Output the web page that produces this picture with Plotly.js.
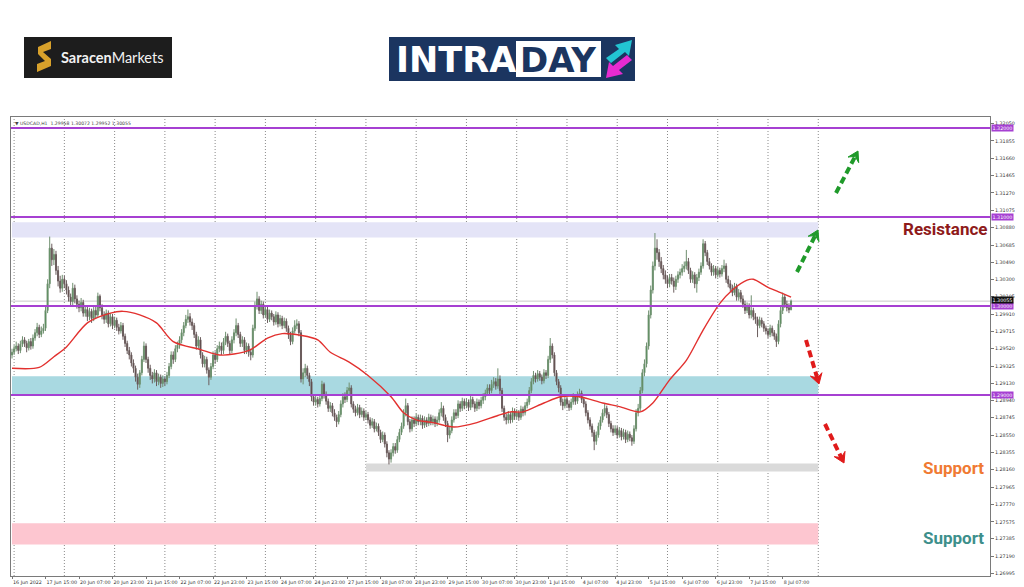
<!DOCTYPE html>
<html><head><meta charset="utf-8">
<script src="https://cdn.plot.ly/plotly-3.0.1.min.js"></script>
<style>html,body{margin:0;padding:0;background:#fff;}#chart{width:1024px;height:587px;}</style>
</head><body><div id="chart"></div>
<script>
// ---------- DATA ----------
const symbolHeader = "\u25BC USDCAD,H1  1.29958 1.30072 1.29952 1.30055";
const firstOpen = 1.2945;
const closes = [
1.2948,1.2952,1.2955,1.2950,1.2957,1.2962,1.2958,1.2953,1.2960,1.2955,
1.2964,1.2970,1.2976,1.2968,1.2972,1.2975,1.2995,1.3025,1.3065,1.3052,
1.3058,1.3040,1.3028,1.3020,1.3030,1.3025,1.3018,1.3010,1.3005,1.3020,
1.3008,1.3002,1.2998,1.3004,1.2992,1.2996,1.2988,1.2994,1.2986,1.2995,
1.2990,1.3011,1.2998,1.2990,1.2985,1.2992,1.2980,1.2988,1.2978,1.2984,
1.2976,1.2972,1.2978,1.2966,1.2958,1.2950,1.2945,1.2936,1.2930,1.2920,
1.2912,1.2925,1.2940,1.2955,1.2940,1.2930,1.2922,1.2918,1.2925,1.2915,
1.2920,1.2913,1.2918,1.2915,1.2922,1.2932,1.2945,1.2940,1.2952,1.2956,
1.2962,1.2970,1.2978,1.2985,1.2988,1.2982,1.2978,1.2968,1.2955,1.2962,
1.2945,1.2935,1.2940,1.2928,1.2920,1.2932,1.2945,1.2940,1.2952,1.2955,
1.2950,1.2960,1.2966,1.2958,1.2950,1.2962,1.2970,1.2978,1.2968,1.2958,
1.2962,1.2950,1.2955,1.2948,1.2945,1.2975,1.3000,1.3008,1.2995,1.3002,
1.2990,1.2996,1.2985,1.2992,1.2988,1.2982,1.2990,1.2980,1.2986,1.2978,
1.2983,1.2975,1.2968,1.2960,1.2972,1.2978,1.2980,1.2970,1.2918,1.2925,
1.2930,1.2922,1.2915,1.2898,1.2892,1.2895,1.2890,1.2896,1.2912,1.2900,
1.2893,1.2885,1.2888,1.2880,1.2875,1.2870,1.2878,1.2890,1.2898,1.2895,
1.2905,1.2908,1.2890,1.2884,1.2880,1.2886,1.2878,1.2882,1.2875,1.2878,
1.2872,1.2866,1.2870,1.2862,1.2865,1.2858,1.2850,1.2855,1.2845,1.2835,
1.2828,1.2835,1.2842,1.2838,1.2850,1.2858,1.2865,1.2880,1.2888,1.2870,
1.2862,1.2872,1.2868,1.2875,1.2870,1.2874,1.2866,1.2872,1.2868,1.2875,
1.2870,1.2873,1.2868,1.2872,1.2880,1.2885,1.2875,1.2868,1.2855,1.2860,
1.2872,1.2880,1.2877,1.2890,1.2885,1.2893,1.2888,1.2892,1.2886,1.2895,
1.2890,1.2885,1.2892,1.2888,1.2894,1.2898,1.2902,1.2908,1.2905,1.2912,
1.2915,1.2910,1.2918,1.2905,1.2885,1.2875,1.2872,1.2878,1.2872,1.2882,
1.2876,1.2880,1.2875,1.2884,1.2880,1.2888,1.2892,1.2905,1.2915,1.2922,
1.2918,1.2924,1.2920,1.2916,1.2925,1.2922,1.2940,1.2955,1.2945,1.2925,
1.2915,1.2908,1.2892,1.2888,1.2895,1.2890,1.2886,1.2892,1.2898,1.2893,
1.2900,1.2902,1.2895,1.2890,1.2880,1.2872,1.2865,1.2858,1.2848,1.2855,
1.2865,1.2872,1.2880,1.2885,1.2878,1.2868,1.2862,1.2858,1.2862,1.2855,
1.2860,1.2853,1.2858,1.2850,1.2856,1.2852,1.2848,1.2862,1.2880,1.2885,
1.2905,1.2925,1.2935,1.2955,1.2990,1.3018,1.3045,1.3065,1.3060,1.3050,
1.3042,1.3035,1.3030,1.3025,1.3032,1.3028,1.3022,1.3030,1.3035,1.3038,
1.3042,1.3045,1.3050,1.3040,1.3030,1.3035,1.3025,1.3032,1.3038,1.3045,
1.3070,1.3060,1.3050,1.3045,1.3038,1.3042,1.3035,1.3040,1.3036,1.3042,
1.3045,1.3030,1.3025,1.3020,1.3015,1.3022,1.3010,1.3015,1.3008,1.3002,
1.2995,1.3000,1.2990,1.2995,1.2988,1.2985,1.2978,1.2984,1.2980,1.2975,
1.2972,1.2968,1.2975,1.2970,1.2966,1.2960,1.2980,1.2995,1.3010,1.3002,
1.2998,1.29958,1.30055];
const highs = [
1.2952,1.2956,1.2960,1.2958,1.2961,1.2966,1.2965,1.2961,1.2963,1.2964,
1.2968,1.2974,1.2981,1.2979,1.2977,1.2980,1.2999,1.3030,1.3078,1.3070,
1.3064,1.3062,1.3045,1.3034,1.3035,1.3034,1.3029,1.3022,1.3014,1.3026,
1.3024,1.3012,1.3006,1.3009,1.3007,1.3001,1.2999,1.2998,1.2997,1.2999,
1.2999,1.3015,1.3013,1.3002,1.2994,1.2996,1.2995,1.2992,1.2991,1.2988,
1.2987,1.2980,1.2982,1.2981,1.2969,1.2961,1.2954,1.2948,1.2940,1.2933,
1.2924,1.2928,1.2944,1.2960,1.2958,1.2943,1.2934,1.2926,1.2929,1.2928,
1.2924,1.2923,1.2922,1.2921,1.2926,1.2936,1.2949,1.2949,1.2956,1.2960,
1.2966,1.2974,1.2982,1.2990,1.2996,1.2992,1.2986,1.2981,1.2971,1.2966,
1.2965,1.2948,1.2944,1.2943,1.2931,1.2936,1.2949,1.2949,1.2956,1.2960,
1.2959,1.2964,1.2971,1.2969,1.2961,1.2966,1.2974,1.2986,1.2981,1.2971,
1.2966,1.2965,1.2959,1.2958,1.2952,1.2979,1.3005,1.3016,1.3011,1.3006,
1.3005,1.3000,1.2999,1.2996,1.2995,1.2991,1.2994,1.2993,1.2990,1.2989,
1.2987,1.2986,1.2978,1.2971,1.2976,1.2984,1.2985,1.2983,1.2973,1.2930,
1.2935,1.2933,1.2925,1.2918,1.2901,1.2899,1.2898,1.2900,1.2916,1.2914,
1.2904,1.2896,1.2892,1.2891,1.2884,1.2878,1.2882,1.2894,1.2902,1.2903,
1.2909,1.2914,1.2911,1.2893,1.2888,1.2890,1.2889,1.2886,1.2885,1.2882,
1.2881,1.2875,1.2874,1.2873,1.2869,1.2868,1.2861,1.2859,1.2858,1.2848,
1.2838,1.2839,1.2846,1.2846,1.2854,1.2862,1.2869,1.2884,1.2896,1.2891,
1.2873,1.2876,1.2876,1.2879,1.2878,1.2878,1.2877,1.2876,1.2875,1.2879,
1.2878,1.2877,1.2876,1.2876,1.2884,1.2892,1.2888,1.2878,1.2871,1.2864,
1.2876,1.2884,1.2884,1.2894,1.2893,1.2897,1.2896,1.2896,1.2895,1.2899,
1.2898,1.2893,1.2896,1.2895,1.2898,1.2902,1.2906,1.2912,1.2912,1.2917,
1.2920,1.2919,1.2930,1.2922,1.2908,1.2888,1.2879,1.2882,1.2881,1.2886,
1.2885,1.2884,1.2883,1.2888,1.2887,1.2892,1.2896,1.2909,1.2919,1.2927,
1.2925,1.2928,1.2927,1.2923,1.2929,1.2928,1.2944,1.2964,1.2958,1.2948,
1.2928,1.2918,1.2911,1.2896,1.2899,1.2898,1.2894,1.2896,1.2902,1.2901,
1.2904,1.2907,1.2905,1.2898,1.2893,1.2883,1.2875,1.2868,1.2861,1.2859,
1.2869,1.2876,1.2884,1.2890,1.2888,1.2881,1.2871,1.2866,1.2866,1.2865,
1.2864,1.2863,1.2862,1.2861,1.2860,1.2859,1.2855,1.2866,1.2884,1.2890,
1.2909,1.2929,1.2940,1.2959,1.2995,1.3023,1.3050,1.3082,1.3075,1.3064,
1.3055,1.3046,1.3040,1.3034,1.3036,1.3036,1.3032,1.3034,1.3039,1.3042,
1.3047,1.3050,1.3063,1.3054,1.3043,1.3039,1.3038,1.3036,1.3042,1.3049,
1.3075,1.3073,1.3063,1.3054,1.3048,1.3046,1.3045,1.3044,1.3043,1.3046,
1.3052,1.3048,1.3034,1.3029,1.3024,1.3026,1.3025,1.3019,1.3018,1.3012,
1.3006,1.3004,1.3003,1.3012,1.2998,1.2992,1.2988,1.2988,1.2987,1.2983,
1.2978,1.2975,1.2979,1.2978,1.2973,1.2969,1.2984,1.2999,1.3015,1.3013,
1.3006,1.3003,1.30072];
const lows = [
1.2941,1.2945,1.2949,1.2946,1.2947,1.2954,1.2954,1.2948,1.2950,1.2951,
1.2952,1.2961,1.2966,1.2964,1.2965,1.2969,1.2972,1.2992,1.3020,1.3045,
1.3046,1.3035,1.3022,1.3015,1.3016,1.3020,1.3013,1.3005,1.3000,1.3001,
1.3003,1.2997,1.2993,1.2994,1.2988,1.2988,1.2983,1.2984,1.2981,1.2983,
1.2986,1.2987,1.2994,1.2985,1.2980,1.2981,1.2976,1.2977,1.2974,1.2975,
1.2972,1.2968,1.2969,1.2962,1.2954,1.2946,1.2940,1.2932,1.2925,1.2915,
1.2906,1.2908,1.2922,1.2937,1.2936,1.2925,1.2917,1.2913,1.2914,1.2910,
1.2911,1.2908,1.2909,1.2910,1.2912,1.2919,1.2929,1.2935,1.2937,1.2948,
1.2952,1.2958,1.2966,1.2975,1.2981,1.2978,1.2973,1.2964,1.2951,1.2952,
1.2941,1.2931,1.2931,1.2924,1.2911,1.2917,1.2929,1.2935,1.2937,1.2948,
1.2945,1.2946,1.2956,1.2954,1.2946,1.2947,1.2958,1.2966,1.2964,1.2954,
1.2954,1.2946,1.2946,1.2943,1.2939,1.2942,1.2972,1.2996,1.2991,1.2991,
1.2986,1.2987,1.2981,1.2982,1.2984,1.2978,1.2979,1.2976,1.2977,1.2974,
1.2975,1.2971,1.2963,1.2956,1.2957,1.2969,1.2974,1.2966,1.2914,1.2912,
1.2920,1.2918,1.2910,1.2893,1.2888,1.2888,1.2886,1.2887,1.2893,1.2896,
1.2889,1.2881,1.2881,1.2876,1.2871,1.2864,1.2867,1.2875,1.2886,1.2891,
1.2892,1.2901,1.2886,1.2880,1.2876,1.2877,1.2874,1.2875,1.2871,1.2872,
1.2868,1.2862,1.2863,1.2858,1.2859,1.2854,1.2846,1.2847,1.2841,1.2830,
1.2822,1.2824,1.2831,1.2834,1.2835,1.2847,1.2855,1.2862,1.2876,1.2866,
1.2858,1.2859,1.2864,1.2865,1.2866,1.2866,1.2862,1.2863,1.2864,1.2865,
1.2866,1.2866,1.2864,1.2865,1.2869,1.2876,1.2871,1.2864,1.2847,1.2851,
1.2857,1.2869,1.2873,1.2874,1.2881,1.2882,1.2884,1.2885,1.2882,1.2883,
1.2886,1.2881,1.2882,1.2884,1.2885,1.2890,1.2894,1.2899,1.2901,1.2902,
1.2908,1.2906,1.2907,1.2901,1.2881,1.2871,1.2867,1.2868,1.2868,1.2869,
1.2872,1.2873,1.2871,1.2872,1.2876,1.2877,1.2885,1.2889,1.2902,1.2912,
1.2914,1.2915,1.2916,1.2912,1.2913,1.2918,1.2919,1.2936,1.2941,1.2921,
1.2911,1.2903,1.2888,1.2883,1.2885,1.2886,1.2882,1.2883,1.2889,1.2889,
1.2890,1.2897,1.2891,1.2886,1.2876,1.2868,1.2861,1.2853,1.2838,1.2844,
1.2852,1.2861,1.2869,1.2876,1.2874,1.2864,1.2858,1.2854,1.2855,1.2851,
1.2852,1.2849,1.2850,1.2846,1.2847,1.2848,1.2843,1.2845,1.2859,1.2876,
1.2882,1.2902,1.2921,1.2931,1.2951,1.2986,1.3014,1.3040,1.3052,1.3044,
1.3037,1.3030,1.3025,1.3020,1.3021,1.3024,1.3015,1.3018,1.3026,1.3031,
1.3034,1.3038,1.3041,1.3036,1.3026,1.3026,1.3020,1.3015,1.3028,1.3035,
1.3042,1.3056,1.3046,1.3041,1.3034,1.3034,1.3031,1.3032,1.3032,1.3033,
1.3038,1.3026,1.3021,1.3016,1.3011,1.3012,1.3006,1.3006,1.3004,1.2998,
1.2991,1.2992,1.2986,1.2986,1.2984,1.2980,1.2965,1.2975,1.2976,1.2971,
1.2968,1.2964,1.2965,1.2966,1.2962,1.2954,1.2957,1.2976,1.2991,1.2998,
1.2994,1.2992,1.29952];
const maBars = [0,13,20,26,36,47,53,61,69,77,90,99,106,114,122,129,138,146,152,161,170,181,187,193,201,211,222,232,238,244,254,262,271,282,290,300,306,314,322,330,338,344,351,354,361,367,372];
const maVals = [1.2930,1.2931,1.2943,1.2954,1.2981,1.2992,1.2994,1.2990,1.2981,1.2960,1.2951,1.2945,1.2946,1.2951,1.2964,1.2969,1.2967,1.2962,1.2948,1.2937,1.2922,1.2898,1.2880,1.2872,1.2869,1.2864,1.2869,1.2877,1.2881,1.2881,1.2891,1.2898,1.2898,1.2891,1.2887,1.2881,1.2891,1.2917,1.2939,1.2973,1.3003,1.3018,1.3029,1.3030,1.3021,1.3015,1.3010];
const xTickBars = [0,16,32,48,64,80,96,112,128,144,160,176,192,208,224,240,256,272,288,304,320,336,352,368];
const xTickLabels = ["16 Jun 2022","17 Jun 15:00","20 Jun 07:00","20 Jun 23:00","21 Jun 15:00","22 Jun 07:00","22 Jun 23:00","23 Jun 15:00","24 Jun 07:00","24 Jun 23:00","27 Jun 15:00","28 Jun 07:00","28 Jun 23:00","29 Jun 15:00","30 Jun 07:00","30 Jun 23:00","1 Jul 15:00","4 Jul 07:00","4 Jul 23:00","5 Jul 15:00","6 Jul 07:00","6 Jul 23:00","7 Jul 15:00","8 Jul 07:00"];
const dayBars = [1,25,49,73,97,121,145,169,193,217,241,265,289,313,337,361,385];
const yTickVals = [1.32050,1.31855,1.31660,1.31465,1.31270,1.31075,1.30880,1.30685,1.30490,1.30300,1.30105,1.29910,1.29715,1.29520,1.29325,1.29130,1.28940,1.28745,1.28550,1.28355,1.28160,1.27965,1.27770,1.27575,1.27385,1.27190,1.26995];
const levelPrices = [1.32, 1.31, 1.30, 1.29];
const bidPrice = 1.30055;
const zoneLow   = [1.3077, 1.2900, 1.2814, 1.2732];
const zoneHigh  = [1.3094, 1.2921, 1.2823, 1.2756];
const zoneStart = [0, 0, 169, 0];
const zoneEnd   = [385, 385, 385, 385];
const zoneColors = ["#e4e4f7", "#a9d9e1", "#dadada", "#fdc6d0"];
const labelTexts = ["Resistance", "Support", "Support"];

// ---------- BUILD ----------
const opens = closes.map((c, i) => i === 0 ? firstOpen : closes[i - 1]);
const bars = closes.map((c, i) => i);
const W = 1024, H = 587, ML = 11, MR = 34, MT = 117, MB = 11;
const PW = W - ML - MR, PH = H - MT - MB;
const px = x => (x - ML) / PW;
const py = y => (H - MB - y) / PH;

const shapes = [];
zoneLow.forEach((lo, k) => shapes.push({type:'rect', xref:'x', yref:'y', x0:zoneStart[k], x1:zoneEnd[k], y0:lo, y1:zoneHigh[k], fillcolor:zoneColors[k], line:{width:0}, layer:'below'}));
dayBars.forEach(b => shapes.push({type:'line', xref:'x', yref:'paper', x0:b, x1:b, y0:0, y1:1, line:{color:'#8a8a8a', width:1, dash:'1px,2px'}, layer:'below'}));
shapes.push({type:'line', xref:'paper', yref:'y', x0:0, x1:1, y0:bidPrice, y1:bidPrice, line:{color:'#c8c8c8', width:1}, layer:'below'});
levelPrices.forEach(p => shapes.push({type:'line', xref:'paper', yref:'y', x0:0, x1:1, y0:p, y1:p, line:{color:'#a640d2', width:2}, layer:'above'}));

function arrow(x0, y0, x1, y1, color) {
  const dx = x1 - x0, dy = y1 - y0, L = Math.hypot(dx, dy);
  const ux = dx / L, uy = dy / L, nx = -uy, ny = ux;
  const sx = x1 - 5 * ux, sy = y1 - 5 * uy;
  shapes.push({type:'line', xref:'paper', yref:'paper', x0:px(x0), y0:py(y0), x1:px(sx), y1:py(sy), line:{color:color, width:4, dash:'7px,4px'}});
  const A = [x1 - 10 * ux + 6 * nx, y1 - 10 * uy + 6 * ny];
  const C = [x1 - 10 * ux - 6 * nx, y1 - 10 * uy - 6 * ny];
  const N = [x1 - 6 * ux, y1 - 6 * uy];
  const pth = `M${px(A[0])},${py(A[1])} L${px(x1)},${py(y1)} L${px(C[0])},${py(C[1])} L${px(N[0])},${py(N[1])} Z`;
  shapes.push({type:'path', xref:'paper', yref:'paper', path:pth, fillcolor:color, line:{color:color, width:1}});
}
arrow(836, 193, 858, 151, '#1f9a2a');
arrow(797, 272, 818, 230, '#1f9a2a');
arrow(806, 340, 819, 384, '#e01b1b');
arrow(825, 424, 844, 463, '#e01b1b');

// logos
shapes.push({type:'rect', xref:'paper', yref:'paper', x0:px(24), x1:px(172), y0:py(78), y1:py(37), fillcolor:'#1d1d1d', line:{width:0}});
const sPts = [[38,47],[51,41],[51,49],[43,52],[51,59],[51,66],[37,72],[37,64],[45,61],[38,54]];
shapes.push({type:'path', xref:'paper', yref:'paper', path:'M' + sPts.map(p => px(p[0]) + ',' + py(p[1])).join(' L') + ' Z', fillcolor:'#d8a12b', line:{width:0}});
shapes.push({type:'rect', xref:'paper', yref:'paper', x0:px(389), x1:px(635), y0:py(81), y1:py(37), fillcolor:'#1b3560', line:{width:0}});
shapes.push({type:'rect', xref:'paper', yref:'paper', x0:px(516), x1:px(601), y0:py(77), y1:py(41), fillcolor:'#ffffff', line:{width:0}});
const cyan = [[606,58],[619,49],[615,45],[632,40],[629,56],[625,52],[611,63]];
shapes.push({type:'path', xref:'paper', yref:'paper', path:'M' + cyan.map(p => px(p[0]) + ',' + py(p[1])).join(' L') + ' Z', fillcolor:'#22c4d2', line:{width:0}});
const mag = [[632,60],[619,70],[623,74],[606,78],[609,62],[613,66],[627,55]];
shapes.push({type:'path', xref:'paper', yref:'paper', path:'M' + mag.map(p => px(p[0]) + ',' + py(p[1])).join(' L') + ' Z', fillcolor:'#e62bd0', line:{width:0}});

const annotations = [];
annotations.push({xref:'paper', yref:'paper', x:px(59), y:py(57), xanchor:'left', yanchor:'middle', showarrow:false, text:'<b>Saracen</b>Markets', font:{family:'Lato, Open Sans, sans-serif', size:14.5, color:'#f2f2f2'}});
annotations.push({xref:'paper', yref:'paper', x:px(394), y:py(60), xanchor:'left', yanchor:'middle', showarrow:false, text:'<b>INTRA</b>', font:{family:'DejaVu Sans, sans-serif', size:35, color:'#ffffff'}});
annotations.push({xref:'paper', yref:'paper', x:px(558), y:py(60), xanchor:'center', yanchor:'middle', showarrow:false, text:'<b>DAY</b>', font:{family:'DejaVu Sans, sans-serif', size:34, color:'#1b3560'}});
annotations.push({xref:'paper', yref:'paper', x:px(13), y:py(119), xanchor:'left', yanchor:'top', showarrow:false, text:symbolHeader, font:{family:'DejaVu Sans, sans-serif', size:4.6, color:'#444'}});
const labelX = [945, 953, 953], labelY = [229, 468, 538], labelColors = ['#8e1a1a', '#f07a32', '#3d8f8b'];
labelTexts.forEach((t, k) => annotations.push({xref:'paper', yref:'paper', x:px(labelX[k]), y:py(labelY[k]), xanchor:'center', yanchor:'middle', showarrow:false, text:'<b>' + t + '</b>', font:{family:'Roboto, sans-serif', size:17, color:labelColors[k]}}));
levelPrices.forEach(p => annotations.push({xref:'paper', yref:'y', x:1, y:p, xanchor:'left', yanchor:'middle', xshift:1, showarrow:false, text:p.toFixed(5), bgcolor:'#a640d2', borderpad:0.5, font:{family:'DejaVu Sans, sans-serif', size:4.8, color:'#fff'}}));
annotations.push({xref:'paper', yref:'y', x:1, y:bidPrice, xanchor:'left', yanchor:'middle', xshift:1, yshift:1, showarrow:false, text:bidPrice.toFixed(5), bgcolor:'#111', borderpad:0.5, font:{family:'DejaVu Sans, sans-serif', size:4.8, color:'#fff'}});

const traces = [
  {type:'candlestick', x:bars, open:opens, high:highs, low:lows, close:closes,
   increasing:{line:{color:'#6f8f6f', width:1}, fillcolor:'#2f8a3c'},
   decreasing:{line:{color:'#6b5d5d', width:1}, fillcolor:'#4a2a2a'},
   whiskerwidth:0, hoverinfo:'skip'},
  {type:'scatter', mode:'lines', x:maBars, y:maVals, line:{color:'#e2312f', width:1.4, shape:'spline', smoothing:0.8}, hoverinfo:'skip'}
];

const layout = {
  width:W, height:H, margin:{l:ML, r:MR, t:MT, b:MB},
  paper_bgcolor:'#fff', plot_bgcolor:'#fff', showlegend:false, hovermode:false,
  xaxis:{range:[-0.48, 467.0], showgrid:false, zeroline:false, tickmode:'array', tickvals:xTickBars, ticktext:xTickLabels,
    tickangle:0, ticks:'outside', ticklen:2, tickcolor:'#777', ticklabelposition:'outside right', ticklabelstandoff:1,
    tickfont:{family:'DejaVu Sans, sans-serif', size:4.8, color:'#333'},
    showline:true, mirror:true, linecolor:'#7a7a7a', linewidth:1, rangeslider:{visible:false}, fixedrange:true, automargin:false},
  yaxis:{range:[1.269663, 1.321236], side:'right', showgrid:false, zeroline:false, tickmode:'array', tickvals:yTickVals, ticktext:yTickVals.map(v => v.toFixed(5)),
    ticks:'outside', ticklen:3, tickcolor:'#777', tickfont:{family:'DejaVu Sans, sans-serif', size:4.8, color:'#333'},
    showline:true, mirror:true, linecolor:'#7a7a7a', linewidth:1, fixedrange:true, automargin:false},
  shapes:shapes, annotations:annotations
};
Plotly.newPlot('chart', traces, layout, {staticPlot:true, displayModeBar:false});
</script></body></html>
